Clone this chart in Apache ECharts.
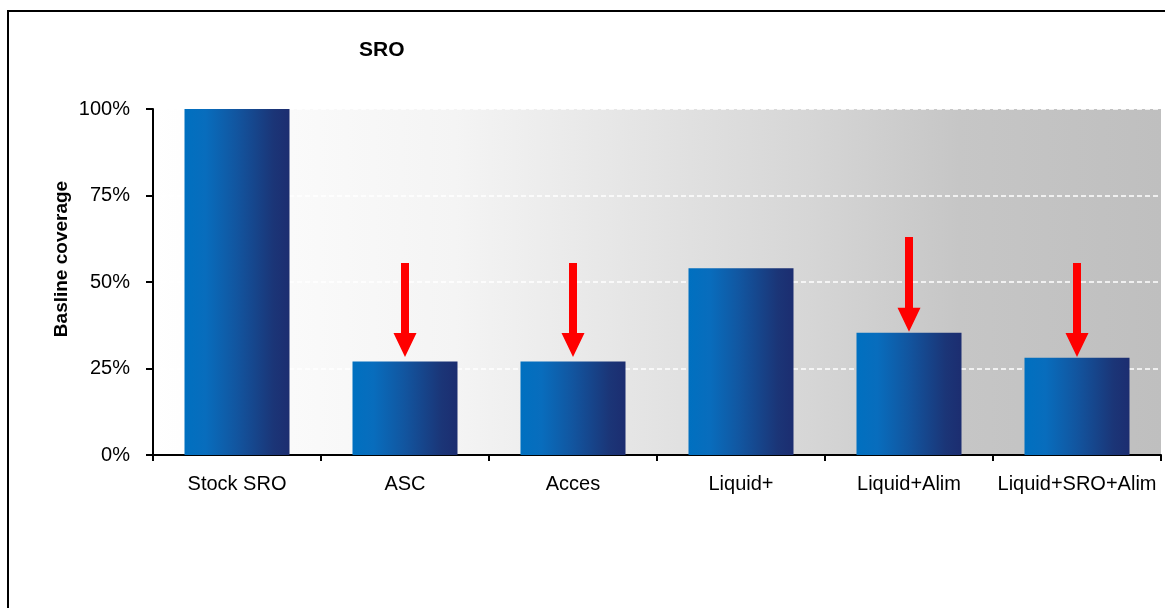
<!DOCTYPE html>
<html>
<head>
<meta charset="utf-8">
<title>SRO</title>
<script src="https://cdn.jsdelivr.net/npm/echarts@6/dist/echarts.min.js"></script>
<style>
  html, body { margin: 0; padding: 0; background: #ffffff; }
  #chart { width: 1165px; height: 608px; }
</style>
</head>
<body>
<div id="chart"></div>
<script>
// Categories and baseline coverage (%) per configuration
const categories = ['Stock SRO', 'ASC', 'Acces', 'Liquid+', 'Liquid+Alim', 'Liquid+SRO+Alim'];
const coverage = [100, 27, 27, 54, 35.3, 28.1];

// Red arrows pointing down onto the reduced-coverage bars (start / end, in %)
const arrowFrom = [null, 55.5, 55.5, null, 63, 55.5];
const arrowTo = [null, 28.3, 28.3, null, 35.6, 28.3];

// Y axis tick values
const yTicks = [0, 25, 50, 75, 100];

const FONT = 'Liberation Sans, Arial, sans-serif';

const arrowData = [];
arrowFrom.forEach((f, i) => {
  if (f !== null) arrowData.push([i, f, arrowTo[i]]);
});

const chart = echarts.init(document.getElementById('chart'), null, { renderer: 'canvas' });

const barGradient = new echarts.graphic.LinearGradient(0, 0, 1, 0, [
  { offset: 0, color: '#0070c0' },
  { offset: 0.2, color: '#086dbd' },
  { offset: 0.5, color: '#12559f' },
  { offset: 0.85, color: '#1b3577' },
  { offset: 1, color: '#1c2d70' }
]);

const plotGradient = new echarts.graphic.LinearGradient(0, 0, 1, 0, [
  { offset: 0, color: '#ffffff' },
  { offset: 0.3, color: '#f4f4f4' },
  { offset: 0.65, color: '#d6d6d6' },
  { offset: 0.8, color: '#c6c6c6' },
  { offset: 1, color: '#bfbfbf' }
]);

chart.setOption({
  animation: false,
  backgroundColor: '#ffffff',
  title: {
    text: 'SRO',
    left: 359,
    top: 40,
    padding: 0,
    textStyle: { fontFamily: FONT, fontWeight: 'bold', fontSize: 21, color: '#000000' }
  },
  graphic: [{
    type: 'rect',
    shape: { x: 8, y: 11, width: 2000, height: 2000 },
    style: { fill: 'none', stroke: '#000000', lineWidth: 2 },
    z: 100
  }],
  grid: {
    left: 153,
    right: 4,
    top: 109,
    bottom: 153,
    show: true,
    backgroundColor: plotGradient,
    borderWidth: 0
  },
  xAxis: {
    type: 'category',
    data: categories,
    axisLine: { lineStyle: { color: '#000000', width: 2 } },
    axisTick: { show: true, length: 6, lineStyle: { color: '#000000', width: 2 } },
    axisLabel: { fontFamily: FONT, fontSize: 20, color: '#000000', margin: 19, interval: 0 },
    splitLine: { show: false }
  },
  yAxis: {
    type: 'value',
    min: yTicks[0],
    max: yTicks[yTicks.length - 1],
    interval: 25,
    name: 'Basline coverage',
    nameLocation: 'middle',
    nameGap: 82,
    nameMoveOverlap: false,
    nameRotate: 90,
    nameTextStyle: {
      fontFamily: FONT, fontWeight: 'bold', fontSize: 19, color: '#000000',
      padding: [0, 0, 0, 46]
    },
    axisLine: { show: true, lineStyle: { color: '#000000', width: 2 } },
    axisTick: { show: true, length: 7, lineStyle: { color: '#000000', width: 2 } },
    axisLabel: { fontFamily: FONT, fontSize: 20, color: '#000000', margin: 23, formatter: '{value}%' },
    splitLine: { show: true, lineStyle: { color: '#ffffff', width: 1.5, type: [5, 3] } }
  },
  series: [
    {
      type: 'bar',
      data: coverage,
      barWidth: '62.5%',
      itemStyle: { color: barGradient },
      z: 2
    },
    {
      type: 'custom',
      data: arrowData,
      encode: { x: 0, y: [1, 2] },
      z: 5,
      renderItem: function (params, api) {
        const i = api.value(0);
        const p1 = api.coord([i, api.value(1)]);
        const p2 = api.coord([i, api.value(2)]);
        const cx = p1[0];
        const shaft = 4;
        const head = 11.5;
        const headLen = 24;
        const yHead = p2[1] - headLen;
        return {
          type: 'polygon',
          shape: {
            points: [
              [cx - shaft, p1[1]],
              [cx + shaft, p1[1]],
              [cx + shaft, yHead],
              [cx + head, yHead],
              [cx, p2[1]],
              [cx - head, yHead],
              [cx - shaft, yHead]
            ]
          },
          style: { fill: '#ff0000' }
        };
      }
    }
  ]
});
</script>
</body>
</html>
